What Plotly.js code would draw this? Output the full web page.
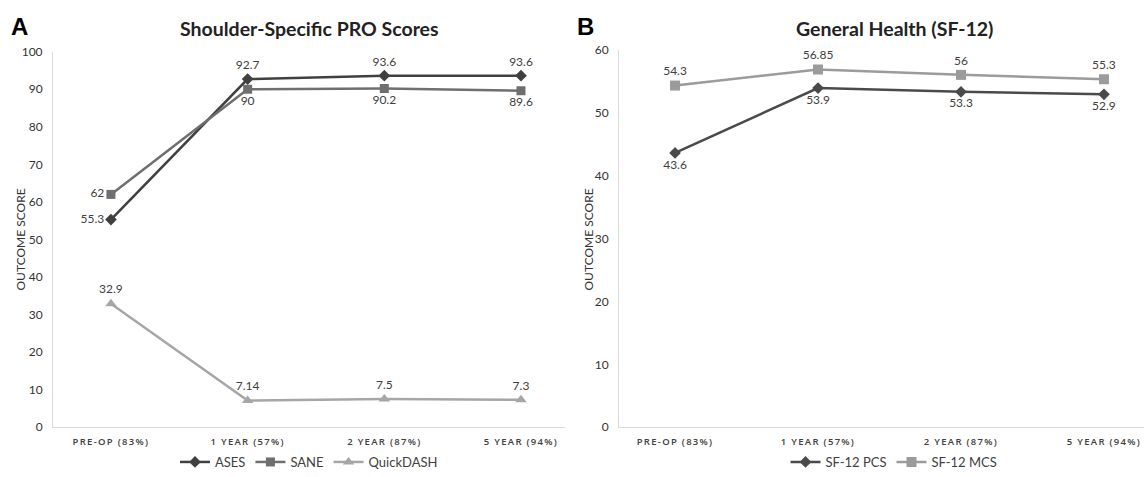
<!DOCTYPE html>
<html><head><meta charset="utf-8">
<script src="https://cdn.plot.ly/plotly-3.0.1.min.js"></script>
<style>
html,body{margin:0;padding:0;background:#fff;}
#chart{width:1144px;height:477px;}
.xtick text, .x2tick text{letter-spacing:1.3px;}
</style></head>
<body><div id="chart"></div>
<script>
const categories = ["PRE-OP (83%)", "1 YEAR (57%)", "2 YEAR (87%)", "5 YEAR (94%)"];
const ases = [55.3, 92.7, 93.6, 93.6];
const sane = [62, 90, 90.2, 89.6];
const quickdash = [32.9, 7.14, 7.5, 7.3];
const pcs = [43.6, 53.9, 53.3, 52.9];
const mcs = [54.3, 56.85, 56, 55.3];

const W = 1144, H = 477;
const px = v => v / W, py = v => (H - v) / H;
const font = "Lato, 'Open Sans', sans-serif";
const lblFont = {family: font, size: 12, color: "#404040"};

function tr(name, y, color, symbol, size, pos, xa, ya, leg) {
  return {
    x: categories, y: y, name: name, type: "scatter", mode: "lines+markers+text",
    xaxis: xa, yaxis: ya, legend: leg,
    line: {color: color, width: 2.5},
    marker: {color: color, symbol: symbol, size: size},
    text: y.map(String), textposition: pos, textfont: lblFont,
    cliponaxis: false, hoverinfo: "skip"
  };
}

const data = [
  tr("ASES", ases, "#404040", "diamond", 9, ["middle left","top center","top center","top center"], "x", "y", "legend"),
  tr("SANE", sane, "#6f6f6f", "square", 9, ["middle left","bottom center","bottom center","bottom center"], "x", "y", "legend"),
  tr("QuickDASH", quickdash, "#a6a6a6", "triangle-up", 10, ["top center","top center","top center","top center"], "x", "y", "legend"),
  tr("SF-12 PCS", pcs, "#4a4a4a", "diamond", 9, ["bottom center","bottom center","bottom center","bottom center"], "x2", "y2", "legend2"),
  tr("SF-12 MCS", mcs, "#9b9b9b", "square", 10, ["top center","top center","top center","top center"], "x2", "y2", "legend2")
];

const xCommon = {
  type: "category", showgrid: false, zeroline: false, showline: true,
  linecolor: "#d9d9d9", linewidth: 1, ticks: "", fixedrange: true, ticklabelstandoff: 5,
  tickfont: {family: "'Open Sans', sans-serif", size: 9.5, color: "#404040", weight: 600}
};
const yCommon = {
  showgrid: false, zeroline: false, showline: true, linecolor: "#d9d9d9",
  linewidth: 1, ticks: "", fixedrange: true, ticklabelstandoff: 7,
  tickfont: {family: font, size: 12, color: "#333"}
};

const layout = {
  width: W, height: H, margin: {l: 0, r: 0, t: 0, b: 0},
  paper_bgcolor: "#fff", plot_bgcolor: "rgba(0,0,0,0)", showlegend: true,
  xaxis: Object.assign({}, xCommon, {domain: [px(53), px(565)], range: [-0.424, 3.322], anchor: "y"}),
  yaxis: Object.assign({}, yCommon, {domain: [py(430), py(52)], range: [0, 100], dtick: 10, anchor: "x"}),
  xaxis2: Object.assign({}, xCommon, {domain: [px(619), 1], range: [-0.392, 3.28], anchor: "y2"}),
  yaxis2: Object.assign({}, yCommon, {domain: [py(430), py(50)], range: [0, 60], dtick: 10, anchor: "x2"}),
  legend: {orientation: "h", x: px(309), xanchor: "center", y: py(465), yanchor: "middle",
    font: {family: font, size: 13, color: "#404040"}, bgcolor: "rgba(0,0,0,0)", traceorder: "normal"},
  legend2: {orientation: "h", x: px(894), xanchor: "center", y: py(465), yanchor: "middle",
    font: {family: font, size: 13, color: "#404040"}, bgcolor: "rgba(0,0,0,0)", traceorder: "normal"},
  annotations: [
    {text: "<b>A</b>", x: px(9), y: py(27), xref: "paper", yref: "paper", xanchor: "left", yanchor: "middle",
      showarrow: false, font: {family: "'Liberation Sans', Arial, sans-serif", size: 24, color: "#000"}},
    {text: "<b>B</b>", x: px(575), y: py(27), xref: "paper", yref: "paper", xanchor: "left", yanchor: "middle",
      showarrow: false, font: {family: "'Liberation Sans', Arial, sans-serif", size: 24, color: "#000"}},
    {text: "<b>Shoulder-Specific PRO Scores</b>", x: px(309), y: py(29), xref: "paper", yref: "paper",
      xanchor: "center", yanchor: "middle", showarrow: false, font: {family: font, size: 19.5, color: "#222"}},
    {text: "<b>General Health (SF-12)</b>", x: px(894), y: py(29), xref: "paper", yref: "paper",
      xanchor: "center", yanchor: "middle", showarrow: false, font: {family: font, size: 19.5, color: "#222"}},
    {text: "OUTCOME SCORE", x: px(20), y: py(241), xref: "paper", yref: "paper", textangle: -90,
      xanchor: "center", yanchor: "middle", showarrow: false, font: {family: font, size: 12, color: "#333"}},
    {text: "OUTCOME SCORE", x: px(588), y: py(241), xref: "paper", yref: "paper", textangle: -90,
      xanchor: "center", yanchor: "middle", showarrow: false, font: {family: font, size: 12, color: "#333"}}
  ]
};

Plotly.newPlot("chart", data, layout, {staticPlot: true, displayModeBar: false});
</script></body></html>
